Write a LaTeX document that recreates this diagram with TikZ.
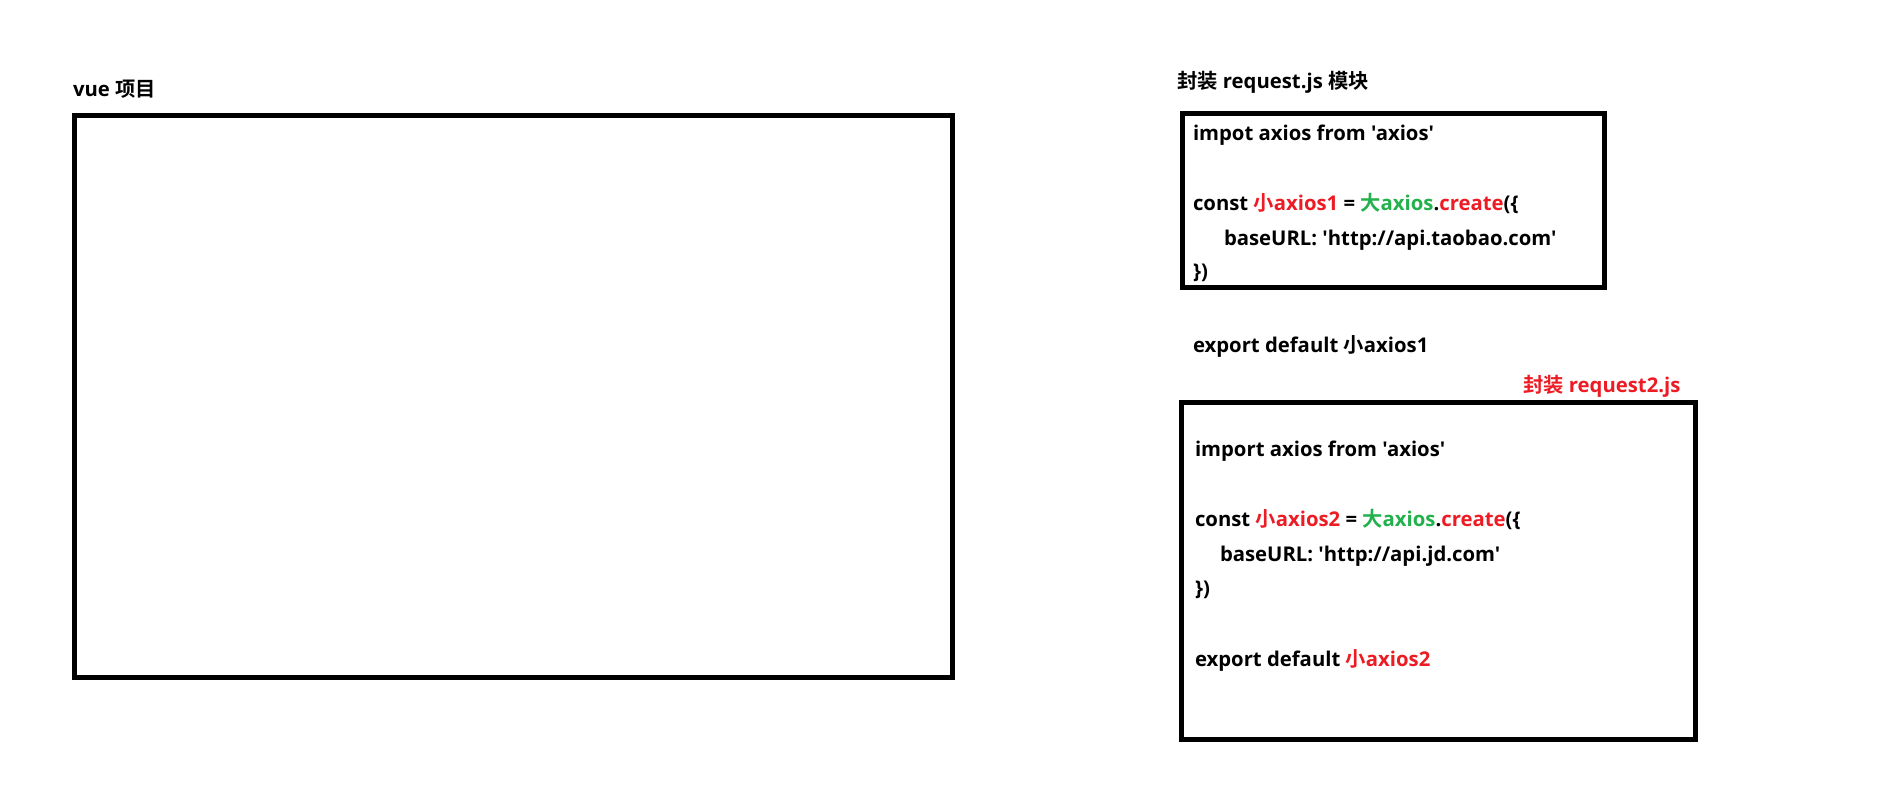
\documentclass[tikz,border=0pt]{standalone}
\usepackage{fontspec}
\setmainfont{Open Sans}[Ligatures=TeXOff]
\newfontfamily\cjk{Noto Sans CJK SC}[BoldFont={Noto Sans CJK SC Bold}]
\definecolor{pred}{HTML}{ED1C24}
\definecolor{pgreen}{HTML}{22B14C}
\newcommand\cxiao{{\cjk 小}}
\newcommand\cda{{\cjk 大}}
\begin{document}
\begin{tikzpicture}[x=1pt,y=-1pt,
  box/.style={draw=black, line width=5pt, inner sep=0pt, outer sep=0pt, anchor=north west},
  lbl/.style={anchor=base west, inner sep=0pt, outer sep=0pt, font=\fontsize{20.3}{24}\selectfont\bfseries}]
\useasboundingbox[fill=white] (0,0) rectangle (1889,810);
% boxes
\node[box, minimum width=878pt, minimum height=561.5pt] (vue) at (74.5,116) {};
\node[box, minimum width=421.5pt, minimum height=173.5pt] (req1) at (1182.5,113.5) {};
\node[box, minimum width=514pt, minimum height=337pt] (req2) at (1181,402) {};
% titles
\node[lbl] (tvue) at (73,97) {vue {\cjk 项目}};
\node[lbl] (treq1) at (1177,89) {{\cjk 封装} request.js {\cjk 模块}};
\node[lbl, text=pred] (treq2) at (1523,392) {{\cjk 封装} request2.js};
% request.js
\node[lbl] (a1) at (1193,141) {impot axios from 'axios'};
\node[lbl] (a2) at (1193,211) {const \textcolor{pred}{\cxiao axios1} = \textcolor{pgreen}{\cda axios}.\textcolor{pred}{create}(\{};
\node[lbl] (a3) at (1224,246) {baseURL: 'http://api.taobao.com'};
\node[lbl] (a4) at (1193,279) {\})};
\node[lbl] (a5) at (1193,352) {export default \cxiao axios1};
% request2.js
\node[lbl] (b1) at (1195,456) {import axios from 'axios'};
\node[lbl] (b2) at (1195,526) {const \textcolor{pred}{\cxiao axios2} = \textcolor{pgreen}{\cda axios}.\textcolor{pred}{create}(\{};
\node[lbl] (b3) at (1220,561) {baseURL: 'http://api.jd.com'};
\node[lbl] (b4) at (1195,595) {\})};
\node[lbl] (b5) at (1195,666) {export default \textcolor{pred}{\cxiao axios2}};
\end{tikzpicture}
\end{document}
